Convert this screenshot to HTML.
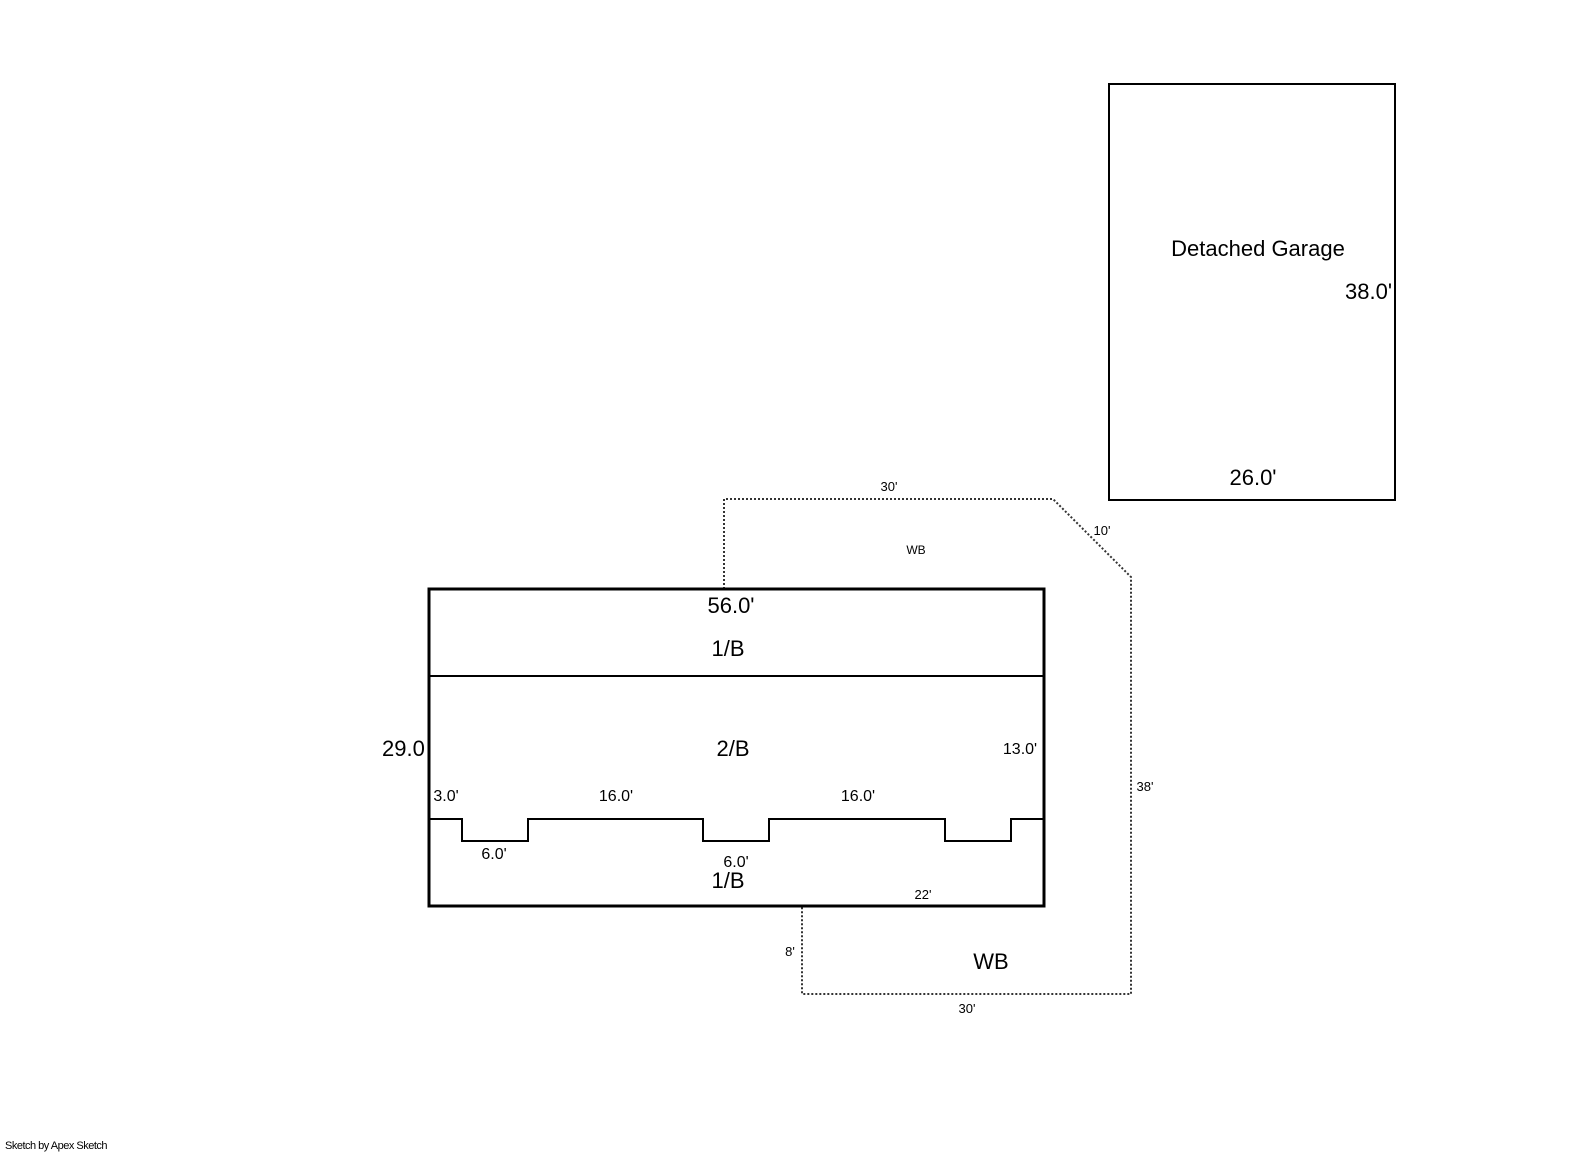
<!DOCTYPE html>
<html><head><style>body{margin:0;background:#fff}svg{display:block}</style></head>
<body>
<svg width="1585" height="1163" viewBox="0 0 1585 1163" xmlns="http://www.w3.org/2000/svg" font-family="Liberation Sans, sans-serif">
<rect x="1109" y="84" width="286" height="416" fill="none" stroke="#000" stroke-width="2"/>
<text x="1258" y="256" font-size="22" text-anchor="middle">Detached Garage</text>
<text x="1345" y="299" font-size="22">38.0'</text>
<text x="1253" y="485" font-size="22" text-anchor="middle">26.0'</text>
<polyline points="724,589 724,499 1053,499 1131,577 1131,994 802,994 802,906" fill="none" stroke="#333" stroke-width="2" stroke-dasharray="2,2"/>
<text x="889" y="491" font-size="13" text-anchor="middle">30'</text>
<text x="1102" y="535" font-size="13" text-anchor="middle">10'</text>
<text x="916" y="554" font-size="12" text-anchor="middle">WB</text>
<text x="1145" y="791" font-size="13" text-anchor="middle">38'</text>
<text x="923" y="899" font-size="13" text-anchor="middle">22'</text>
<text x="790" y="956" font-size="13" text-anchor="middle">8'</text>
<text x="991" y="969" font-size="22" text-anchor="middle">WB</text>
<text x="967" y="1013" font-size="13" text-anchor="middle">30'</text>
<rect x="429" y="589" width="615" height="317" fill="none" stroke="#000" stroke-width="3"/>
<line x1="429" y1="676" x2="1044" y2="676" stroke="#000" stroke-width="2"/>
<polyline points="429,819 462,819 462,841 528,841 528,819 703,819 703,841 769,841 769,819 945,819 945,841 1011,841 1011,819 1044,819" fill="none" stroke="#000" stroke-width="2"/>
<text x="731" y="613" font-size="22" text-anchor="middle">56.0'</text>
<text x="728" y="656" font-size="22" text-anchor="middle">1/B</text>
<text x="733" y="756" font-size="22" text-anchor="middle">2/B</text>
<text x="382" y="756" font-size="22">29.0</text>
<text x="1020" y="754" font-size="16" text-anchor="middle">13.0'</text>
<text x="446" y="801" font-size="16" text-anchor="middle">3.0'</text>
<text x="616" y="801" font-size="16" text-anchor="middle">16.0'</text>
<text x="858" y="801" font-size="16" text-anchor="middle">16.0'</text>
<text x="494" y="859" font-size="16" text-anchor="middle">6.0'</text>
<text x="736" y="867" font-size="16" text-anchor="middle">6.0'</text>
<text x="728" y="888" font-size="22" text-anchor="middle">1/B</text>
<text x="5" y="1149" font-size="11" letter-spacing="-0.5">Sketch by Apex Sketch</text>
</svg>
</body></html>
